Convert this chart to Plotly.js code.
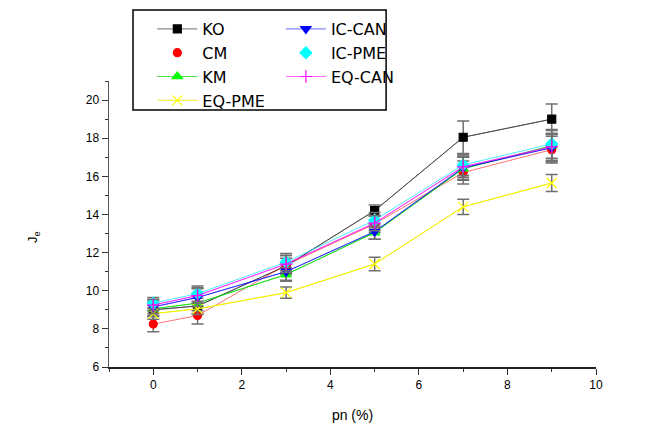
<!DOCTYPE html>
<html>
<head>
<meta charset="utf-8">
<script src="https://cdn.plot.ly/plotly-3.0.1.min.js"></script>
<style>
  html, body { margin: 0; padding: 0; background: #fff; }
  #plot { width: 649px; height: 440px; }
</style>
</head>
<body>
<div id="plot"></div>
<script>
const pn = [0, 1, 3, 5, 7, 9];

const ko = [9.0, 9.2, 11.3, 14.2, 18.05, 19.0];
const koErr = [0.35, 0.4, 0.4, 0.3, 0.85, 0.8];
const icCan = [9.15, 9.65, 11.0, 13.1, 16.45, 17.5];
const icCanErr = [0.35, 0.45, 0.45, 0.4, 0.6, 0.75];
const cm = [8.25, 8.7, 11.35, 13.5, 16.2, 17.4];
const cmErr = [0.4, 0.45, 0.5, 0.45, 0.6, 0.7];
const icPme = [9.35, 9.85, 11.5, 13.7, 16.6, 17.7];
const icPmeErr = [0.3, 0.4, 0.45, 0.4, 0.55, 0.75];
const km = [9.05, 9.35, 10.85, 13.05, 16.4, 17.6];
const kmErr = [0.35, 0.4, 0.35, 0.35, 0.6, 0.8];
const eqCan = [9.25, 9.75, 11.4, 13.55, 16.5, 17.55];
const eqCanErr = [0.3, 0.4, 0.45, 0.4, 0.55, 0.7];
const eqPme = [8.8, 9.05, 9.9, 11.4, 14.4, 15.65];
const eqPmeErr = [0.3, 0.3, 0.3, 0.35, 0.4, 0.45];

// line + error bars (no legend), then the marker trace that shows in the legend
function series(name, y, err, color, lineColor, symbol, size, legendLine, legendId) {
    return [{
        x: pn,
        y: y,
        name: name,
        type: 'scatter',
        mode: 'lines',
        showlegend: false,
        line: { color: lineColor, width: 1 },
        error_y: { type: 'data', array: err, color: '#707070', thickness: 1.5, width: 6 },
    }, {
        x: pn,
        y: y,
        name: name,
        type: 'scatter',
        mode: legendLine ? 'lines+markers' : 'markers',
        legend: legendId,
        line: { color: lineColor, width: 1 },
        marker: { color: color, symbol: symbol, size: size, line: { color: color, width: 1.2 } },
    }];
}

const data = [].concat(
    series('KO', ko, koErr, '#000000', 'rgba(60,60,60,0.75)', 'square', 8, true, 'legend'),
    series('CM', cm, cmErr, '#ff0000', 'rgba(255,0,0,0.55)', 'circle', 8, false, 'legend'),
    series('KM', km, kmErr, '#00ff00', 'rgba(0,220,0,0.7)', 'triangle-up', 9, true, 'legend'),
    series('EQ-PME', eqPme, eqPmeErr, '#ffff00', 'rgba(240,240,0,0.9)', 'x-thin', 10, true, 'legend'),
    series('IC-CAN', icCan, icCanErr, '#0000ff', 'rgba(0,0,255,0.6)', 'triangle-down', 9, true, 'legend2'),
    series('IC-PME', icPme, icPmeErr, '#00ffff', 'rgba(0,230,255,0.7)', 'diamond', 9, false, 'legend2'),
    series('EQ-CAN', eqCan, eqCanErr, '#ff00ff', 'rgba(255,0,255,0.6)', 'cross-thin', 9, true, 'legend2')
);

const legendBase = {
    orientation: 'v',
    xref: 'container',
    yref: 'container',
    y: 0.9727,
    xanchor: 'left',
    yanchor: 'top',
    borderwidth: 0,
    bgcolor: 'rgba(0,0,0,0)',
    font: { size: 16, family: 'DejaVu Sans, sans-serif' },
    tracegroupgap: 0,
    itemwidth: 40,
};

const layout = {
    width: 649,
    height: 440,
    margin: { l: 109, r: 53, t: 81, b: 73, autoexpand: false },
    paper_bgcolor: '#ffffff',
    plot_bgcolor: '#ffffff',
    font: { family: 'Liberation Sans, Arial, sans-serif', color: '#000' },
    showlegend: true,
    legend: Object.assign({ x: 0.2347 }, legendBase),
    legend2: Object.assign({ x: 0.4328 }, legendBase),
    shapes: [{
        type: 'rect',
        xref: 'paper', yref: 'paper',
        x0: 0.0493, x1: 0.569, y0: 0.8986, y1: 1.248,
        line: { color: '#000', width: 1.5 },
        fillcolor: 'rgba(0,0,0,0)',
    }],
    // y-axis title placed as an annotation (standoff misbehaves with fixed margins)
    annotations: [{
        text: 'J<sub>e</sub>',
        xref: 'paper', yref: 'paper',
        x: -0.156, y: 0.4545,
        xanchor: 'center', yanchor: 'middle',
        textangle: -90,
        showarrow: false,
        font: { size: 13 },
    }],
    xaxis: {
        range: [-1, 10],
        tickvals: [0, 2, 4, 6, 8, 10],
        ticks: 'outside',
        ticklen: 6,
        tickcolor: '#333',
        minor: { dtick: 1, tick0: 0, ticks: 'outside', ticklen: 3, tickcolor: '#333' },
        showgrid: false,
        zeroline: false,
        showline: true,
        linecolor: '#222',
        linewidth: 1.5,
        tickfont: { size: 12 },
        title: { text: 'pn (%)', font: { size: 14 } },
    },
    yaxis: {
        range: [6, 21],
        tickvals: [6, 8, 10, 12, 14, 16, 18, 20],
        ticks: 'outside',
        ticklen: 6,
        tickcolor: '#333',
        minor: { dtick: 1, tick0: 6, ticks: 'outside', ticklen: 3, tickcolor: '#333' },
        showgrid: false,
        zeroline: false,
        showline: true,
        linecolor: '#555',
        linewidth: 1.5,
        tickfont: { size: 12 },
    },
};

Plotly.newPlot('plot', data, layout, { displayModeBar: false, staticPlot: true });
</script>
</body>
</html>
